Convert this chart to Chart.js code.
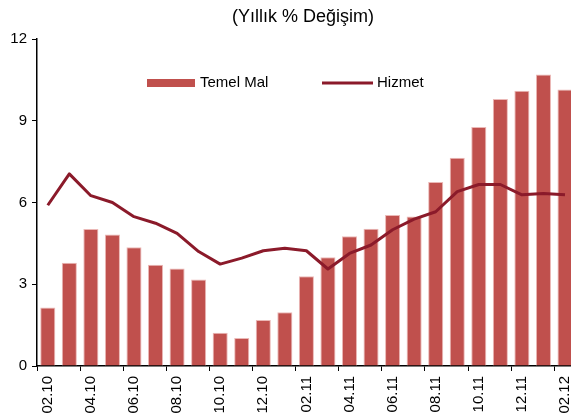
<!DOCTYPE html>
<html><head><meta charset="utf-8">
<script src="https://cdn.jsdelivr.net/npm/chart.js@4/dist/chart.umd.min.js"></script>
<style>html,body{margin:0;padding:0;overflow:hidden;background:#fff;width:571px;height:414px}#wrap{width:588px;height:414px;position:relative}</style>
</head><body><div id="wrap"><canvas id="c"></canvas></div>
<script>
const categories = ['02.10','03.10','04.10','05.10','06.10','07.10','08.10','09.10','10.10','11.10','12.10','01.11','02.11','03.11','04.11','05.11','06.11','07.11','08.11','09.11','10.11','11.11','12.11','01.12','02.12'];
const temelMal = [2.15,3.79,5.03,4.83,4.36,3.72,3.58,3.17,1.22,1.03,1.69,1.97,3.29,3.99,4.76,5.04,5.54,5.49,6.75,7.64,8.77,9.8,10.1,10.7,10.15];
const hizmet = [5.9,7.05,6.25,6.0,5.48,5.24,4.87,4.2,3.74,3.96,4.23,4.32,4.23,3.56,4.13,4.44,5.0,5.39,5.66,6.4,6.66,6.66,6.28,6.33,6.28];
const yTicks = [0,3,6,9,12];
const titleText = '(Yıllık % Değişim)';
const seriesNames = ['Temel Mal','Hizmet'];

const FONT = '"Liberation Sans", Arial, sans-serif';
const barColor = '#C0504D';
const lineColor = '#8B1A2A';

const overlay = {
  id:'overlay',
  afterDraw(chart){
    const ctx = chart.ctx;
    ctx.save();
    ctx.fillStyle = '#000';
    ctx.font = '18px ' + FONT;
    ctx.textAlign = 'center';
    ctx.textBaseline = 'middle';
    ctx.fillText(titleText, 303, 17);
    // legend
    ctx.font = '15px ' + FONT;
    ctx.textAlign = 'left';
    ctx.fillStyle = barColor;
    ctx.fillRect(147, 79, 48, 8);
    ctx.fillStyle = '#000';
    ctx.fillText(seriesNames[0], 200, 83);
    ctx.strokeStyle = lineColor;
    ctx.lineWidth = 3;
    ctx.beginPath(); ctx.moveTo(322, 83); ctx.lineTo(373, 83); ctx.stroke();
    ctx.fillText(seriesNames[1], 377, 83);
    ctx.restore();
  }
};

new Chart(document.getElementById('c'), {
  data:{
    labels: categories,
    datasets:[
      {type:'line', label:seriesNames[1], data:hizmet, borderColor:lineColor, borderWidth:3, pointRadius:0, tension:0, order:0, borderJoinStyle:'round'},
      {type:'bar', label:seriesNames[0], data:temelMal, backgroundColor:barColor, borderColor:'#EBB8B6', borderWidth:1, barPercentage:0.7, categoryPercentage:1, order:1}
    ]
  },
  options:{
    responsive:true, maintainAspectRatio:false, animation:false,
    layout:{padding:{top:39,left:0,right:0,bottom:0}},
    plugins:{legend:{display:false}, tooltip:{enabled:false}, title:{display:false}},
    scales:{
      x:{
        offset:true,
        grid:{offset:true, drawOnChartArea:false, tickLength:5, color:(c)=> (c.index%2===0 ? '#000' : 'rgba(0,0,0,0)'), lineWidth:1},
        border:{color:'#000', width:1.5},
        ticks:{autoSkip:false, minRotation:90, maxRotation:90, padding:5, color:'#000', font:{family:FONT, size:15},
          callback:function(v,i){ return i%2===0 ? categories[i] : ''; }},
        afterFit(s){ s.height = 48; }
      },
      y:{
        min:0, max:12,
        afterBuildTicks(s){ s.ticks = yTicks.map(v=>({value:v})); },
        grid:{drawOnChartArea:false, tickLength:5, color:'#000'},
        border:{color:'#000', width:1.5},
        ticks:{padding:5, color:'#000', font:{family:FONT, size:15}},
        afterFit(s){ s.width = 37; }
      }
    }
  },
  plugins:[overlay]
});
</script></body></html>
